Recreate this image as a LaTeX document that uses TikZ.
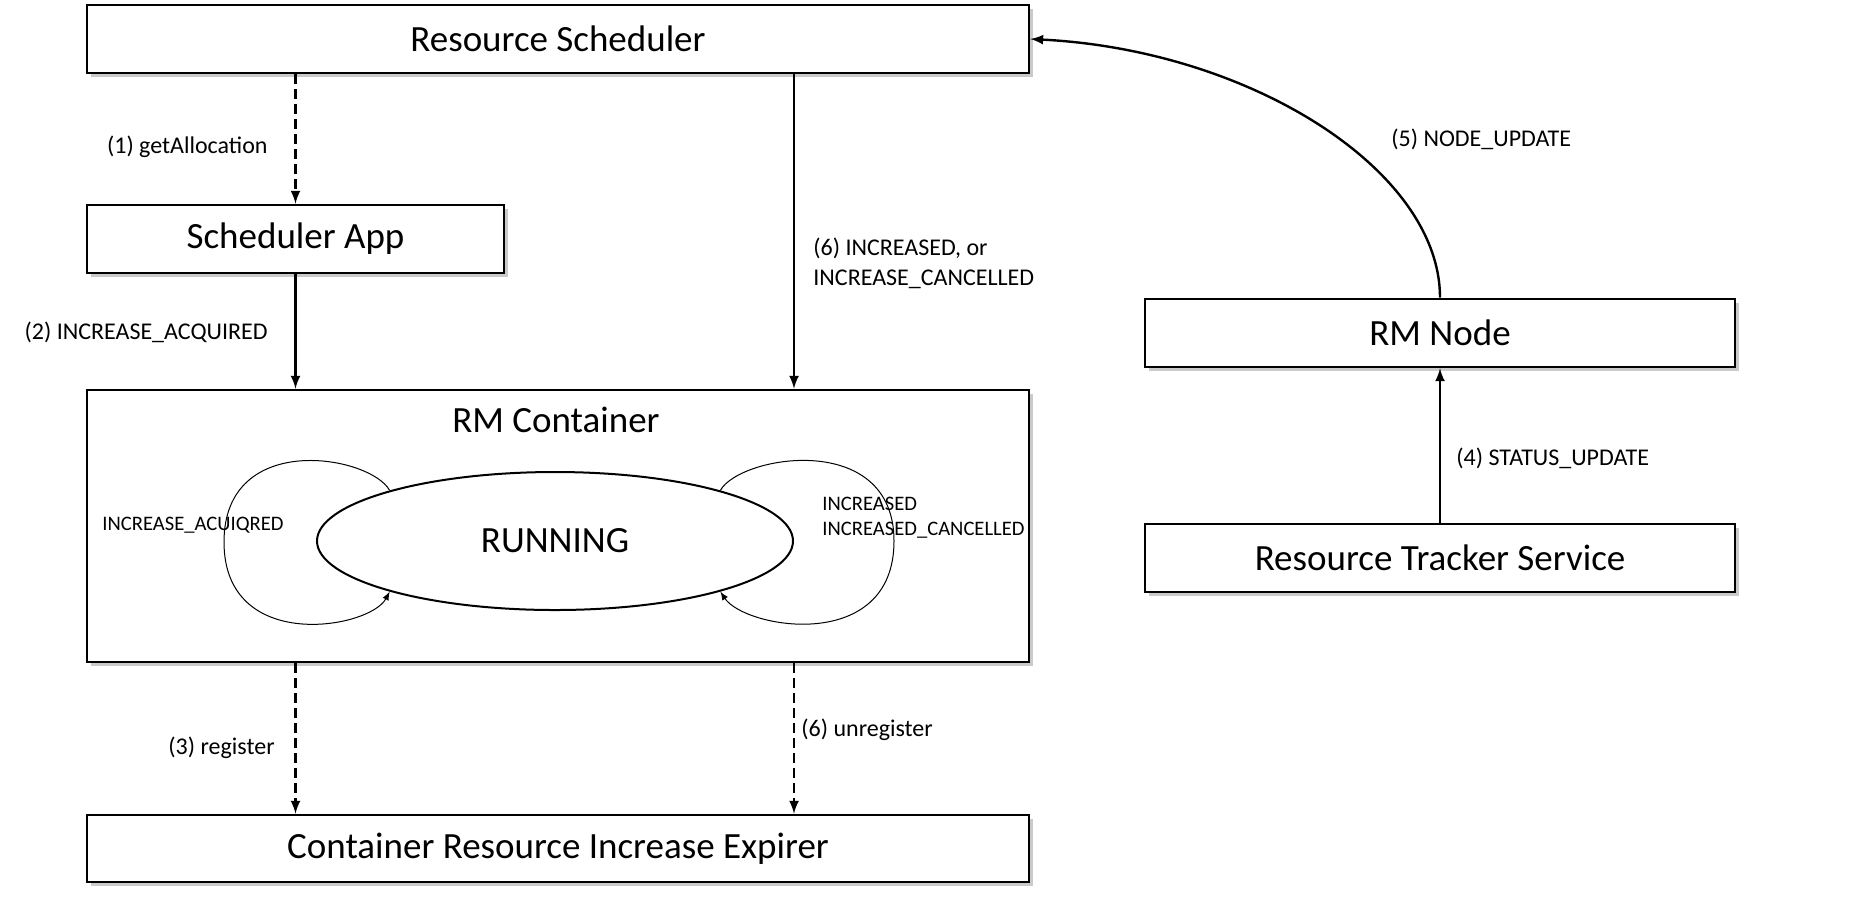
\documentclass[tikz,border=0pt]{standalone}
\usepackage{fontspec}
\setmainfont{Carlito}
\usetikzlibrary{shapes.geometric,shadows}

\begin{document}
\begin{tikzpicture}[x=0.5pt,y=-0.5pt,
  box/.style={rectangle,draw,line width=1.3pt,fill=white,minimum height=34pt,inner sep=0pt,
    drop shadow={shadow xshift=2pt,shadow yshift=-2pt,fill=black!60,opacity=0.35},
    font=\fontsize{18.5}{22}\selectfont},
  msg/.style={font=\fontsize{12}{15}\selectfont,inner sep=0pt,align=left},
  loopmsg/.style={font=\fontsize{10.3}{12.5}\selectfont,inner sep=0pt,align=left},
  call/.style={-latex,line width=1.2pt},
  async/.style={call,dash pattern=on 5pt off 2.5pt},
  ]
\useasboundingbox (0,0) rectangle (1866,907);
\node[box, minimum width=471pt] (rs) at (558,39) {Resource Scheduler};
\node[box, minimum width=208.5pt] (sa) at (295.5,239) {Scheduler App};
\node[box, minimum width=471pt, minimum height=136pt] (rmc) at (558,526) {};
\node[font=\fontsize{18.5}{22}\selectfont] (rmctitle) at (556,420) {RM Container};
\node[ellipse,draw,line width=1pt, minimum width=238pt, minimum height=69pt,
  font=\fontsize{18.5}{22}\selectfont] (run) at (555,541) {RUNNING};
\node[box, minimum width=471pt, minimum height=33.5pt] (exp) at (558,848.5) {Container Resource Increase Expirer};
\node[box, minimum width=295pt] (rmn) at (1440,333) {RM Node};
\node[box, minimum width=295pt] (rt) at (1440,558) {Resource Tracker Service};

% messages
\draw[async] (rs.south -| sa.north) -- (sa.north);
\node[msg, anchor=east] (l1) at (268,147) {(1) getAllocation};
\draw[call] (sa.south) -- (sa.south |- rmc.north);
\node[msg, anchor=east] (l2) at (268,332) {(2) INCREASE\_ACQUIRED};
\draw[call] (rs.south -| run.east) -- (rmc.north -| run.east);
\node[msg, anchor=west] (l6a) at (813,263) {(6) INCREASED, or\\INCREASE\_CANCELLED};
\draw[call] (rmn.north) .. controls (1440,170) and (1250,50) .. (rs.east);
\node[msg, anchor=west] (l5) at (1391,139) {(5) NODE\_UPDATE};
\draw[call] (rt.north) -- (rmn.south);
\node[msg, anchor=west] (l4) at (1456,458) {(4) STATUS\_UPDATE};
\draw[async] (rmc.south -| sa.south) -- (exp.north -| sa.south);
\node[msg, anchor=east] (l3) at (275,748) {(3) register};
\draw[async] (rmc.south -| run.east) -- (exp.north -| run.east);
\node[msg, anchor=west] (l6b) at (801,730) {(6) unregister};

% self transitions
\draw[-latex, line width=0.5pt] (run.163) .. controls (370,455) and (224,430) .. (224,542)
  .. controls (224,654) and (370,629) .. (run.197);
\node[loopmsg, anchor=west] (lacq) at (102,525) {INCREASE\_ACUIQRED};
\draw[-latex, line width=0.5pt] (run.17) .. controls (740,455) and (894,430) .. (894,541)
  .. controls (894,654) and (745,629) .. (run.343);
\node[loopmsg, anchor=west] (lincr) at (822,518) {INCREASED\\INCREASED\_CANCELLED};
\end{tikzpicture}
\end{document}
